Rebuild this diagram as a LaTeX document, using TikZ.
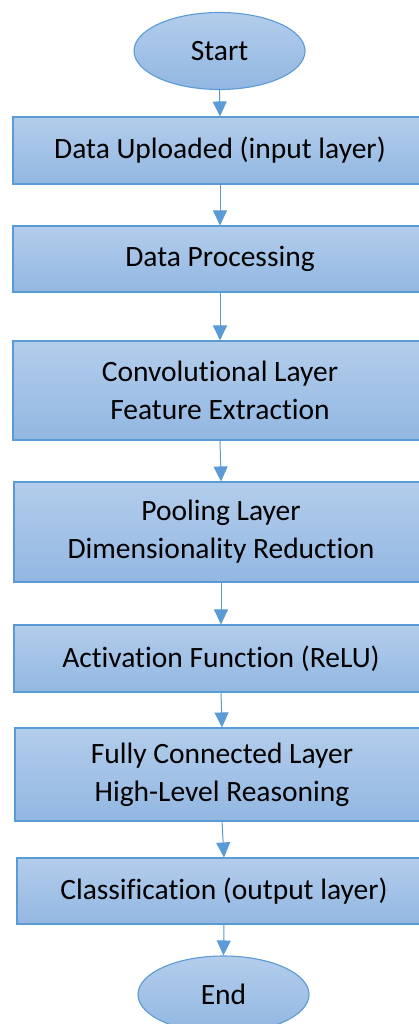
\documentclass[tikz,border=0pt]{standalone}
\usepackage{fontspec}
\setmainfont{Carlito}[Ligatures={NoCommon,NoRare}]
\usetikzlibrary{shapes.geometric,arrows.meta}
\definecolor{edgeblue}{RGB}{91,155,213}
\definecolor{topblue}{RGB}{179,205,235}
\definecolor{lowblue}{RGB}{146,183,226}
\begin{document}
\begin{tikzpicture}[x=1pt,y=-1pt,
  stepbox/.style={draw=edgeblue,line width=1.1pt,top color=topblue,bottom color=lowblue,
    minimum width=414pt,inner sep=0pt,align=center,font=\fontsize{29.5}{38}\selectfont},
  terminal/.style={ellipse,draw=edgeblue,line width=1.1pt,top color=topblue,bottom color=lowblue,
    minimum width=171pt,minimum height=77pt,inner sep=0pt,font=\fontsize{29.5}{38}\selectfont},
  flow/.style={draw=edgeblue,line width=1pt,-{Triangle[width=14pt,length=15pt]}}]
\clip (0,0) rectangle (419,1024);
\fill[white] (0,0) rectangle (419,1024);
\node[terminal] (start) at (219.5,51) {Start};
\node[stepbox,minimum height=67pt] (upload) at (220,150.5) {Data Uploaded (input layer)};
\node[stepbox,minimum height=66pt] (proc) at (220,259) {Data Processing};
\node[stepbox,minimum height=99pt] (conv) at (220,390.5) {Convolutional Layer\\Feature Extraction};
\node[stepbox,minimum height=100pt] (pool) at (221,532) {Pooling Layer\\Dimensionality Reduction};
\node[stepbox,minimum height=67pt] (relu) at (221,658.5) {Activation Function (ReLU)};
\node[stepbox,minimum height=93pt] (dense) at (222,774.5) {Fully Connected Layer\\High-Level Reasoning};
\node[stepbox,minimum height=66pt] (classify) at (224,891) {Classification (output layer)};
\node[terminal] (end) at (223.5,994.5) {End};
\foreach \a/\b in {start/upload,upload/proc,proc/conv,conv/pool,pool/relu,relu/dense,dense/classify,classify/end}
  \draw[flow] (\a.south) -- (\b.north);
\end{tikzpicture}
\end{document}
